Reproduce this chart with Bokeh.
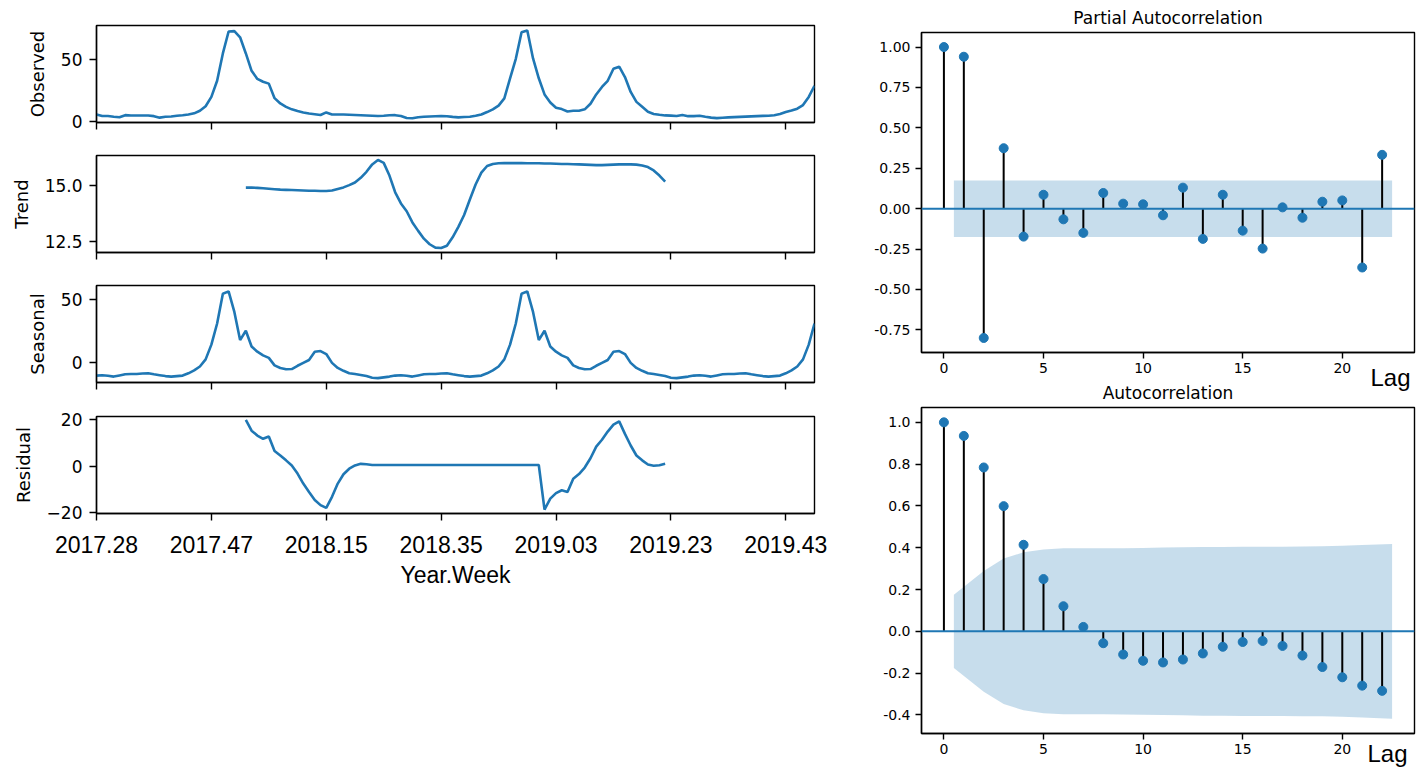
from bokeh.plotting import figure
from bokeh.layouts import row, column
from bokeh.models import Range1d, FixedTicker, Span, Title
from bokeh.embed import file_html
from bokeh.resources import INLINE

# ---------------- data ----------------
week_ticks = [0, 20, 40, 60, 80, 100, 120]
week_labels = ["2017.28", "2017.47", "2018.15", "2018.35", "2019.03", "2019.23", "2019.43"]

observed = [
    5.9, 4.6, 4.6, 4.0, 3.6, 5.3, 5.0, 5.0, 5.0, 5.0,
    4.5, 3.3, 4.0, 4.2, 4.8, 5.2, 5.8, 6.8, 8.9, 12.5,
    20.0, 33.0, 55.0, 72.7, 73.0, 68.0, 55.0, 41.0, 34.5, 32.2,
    30.7, 19.0, 14.7, 12.0, 10.0, 8.6, 7.5, 6.6, 6.1, 5.4,
    7.5, 5.9, 5.8, 5.8, 5.6, 5.4, 5.2, 5.0, 4.8, 4.6,
    4.8, 5.2, 5.3, 4.6, 3.0, 2.8, 3.6, 4.0, 4.2, 4.4,
    4.6, 4.4, 3.9, 3.5, 3.8, 4.0, 4.8, 5.8, 7.8, 10.0,
    13.0, 18.8, 35.0, 50.7, 72.0, 73.5, 51.0, 35.0, 22.0, 15.5,
    11.3, 10.2, 8.3, 8.8, 8.9, 10.0, 14.5, 22.0, 28.0, 33.0,
    42.7, 44.3, 36.0, 24.0, 16.0, 12.0, 8.0, 6.3, 5.6, 5.1,
    4.9, 4.6, 5.4, 4.5, 4.5, 4.8, 4.0, 3.3, 2.9, 3.2,
    3.5, 3.7, 3.9, 4.1, 4.3, 4.5, 4.7, 4.8, 5.3, 6.2,
    7.8, 9.0, 10.5, 13.4, 20.0, 29.0,
]

trend_start = 26
trend = [
    14.91, 14.91, 14.90, 14.88, 14.86, 14.84, 14.82, 14.81, 14.80, 14.79,
    14.78, 14.77, 14.77, 14.76, 14.76, 14.78, 14.85, 14.92, 15.02, 15.14,
    15.35, 15.62, 15.95, 16.15, 16.02,
    15.45, 14.70, 14.20, 13.85, 13.35, 12.97, 12.62, 12.37, 12.22, 12.20, 12.30,
    12.68, 13.15, 13.68, 14.38, 15.05, 15.58, 15.88, 15.97,
    16.00, 16.01, 16.01, 16.01, 16.01, 16.00, 16.00, 16.00, 15.99, 15.99, 15.98,
    15.97, 15.97, 15.96, 15.95, 15.94, 15.93, 15.92, 15.92, 15.93, 15.94,
    15.95, 15.95, 15.95, 15.94, 15.90, 15.83, 15.68, 15.45, 15.18,
]

seasonal = [
    -10.6, -10.3, -10.8, -11.4, -10.5, -9.6, -9.4, -9.3, -9.0, -8.8,
    -9.6, -10.3, -11.0, -11.4, -11.0, -10.6, -8.8, -6.5, -3.4, 2.3,
    14.0, 30.8, 54.5, 56.3, 40.0, 17.6, 25.0, 12.5, 8.4, 5.5,
    3.5, -2.5, -4.6, -5.6, -5.4, -2.8, -0.5, 1.8, 8.3, 8.9,
    6.5, -0.5, -4.5, -6.8, -8.7, -9.4, -10.1, -11.0, -12.3, -12.6,
    -12.0, -11.4,
    -10.6, -10.3, -10.8, -11.4, -10.5, -9.6, -9.4, -9.3, -9.0, -8.8,
    -9.6, -10.3, -11.0, -11.4, -11.0, -10.6, -8.8, -6.5, -3.4, 2.3,
    14.0, 30.8, 54.5, 56.3, 40.0, 17.6, 25.0, 12.5, 8.4, 5.5,
    3.5, -2.5, -4.6, -5.6, -5.4, -2.8, -0.5, 1.8, 8.3, 8.9,
    6.5, -0.5, -4.5, -6.8, -8.7, -9.4, -10.1, -11.0, -12.3, -12.6,
    -12.0, -11.4,
    -10.6, -10.3, -10.8, -11.4, -10.5, -9.6, -9.4, -9.3, -9.0, -8.8,
    -9.6, -10.3, -11.0, -11.4, -11.0, -10.6, -8.8, -6.5, -3.4, 2.3,
    14.0, 30.8,
]

resid_start = 26
resid = [
    20.0, 15.4, 13.3, 11.9, 12.9, 6.6, 4.7, 2.6, 0.4, -3.1,
    -7.4, -11.0, -14.5, -16.7, -17.9, -13.1, -7.4, -3.4, -1.0, 0.4,
    1.1, 0.9, 0.6, 0.6,
    0.6, 0.6, 0.6, 0.6, 0.6, 0.6, 0.6, 0.6, 0.6, 0.6,
    0.6, 0.6, 0.6, 0.6, 0.6, 0.6, 0.6, 0.6, 0.6, 0.6,
    0.6, 0.6, 0.6, 0.6, 0.6, 0.6, 0.6, 0.6,
    -18.6, -13.9, -11.5, -10.3, -11.0, -5.3, -3.3, -0.5, 3.5, 8.5,
    11.5, 15.0, 18.0, 19.4, 14.0, 9.0, 4.7, 2.6, 0.8, 0.3,
    0.5, 1.1,
]

lags = list(range(23))
pacf_vals = [1.00, 0.94, -0.80, 0.374, -0.173, 0.086, -0.066, -0.150, 0.097, 0.031,
             0.027, -0.041, 0.130, -0.187, 0.086, -0.136, -0.247, 0.008, -0.056, 0.043,
             0.051, -0.364, 0.333]
pacf_band_lags = [0.5, 22.5]
pacf_band = [0.175, 0.175]

acf_vals = [1.00, 0.935, 0.784, 0.599, 0.414, 0.250, 0.120, 0.021, -0.057, -0.111,
            -0.141, -0.149, -0.135, -0.106, -0.074, -0.051, -0.046, -0.070, -0.116, -0.171,
            -0.220, -0.260, -0.285]
acf_band_lags = [0.5, 2, 3, 4, 5, 6, 7, 8, 9, 10, 11, 12, 13, 14, 15, 16, 17, 18, 19, 20, 21, 22.5]
acf_band = [0.175, 0.289, 0.348, 0.378, 0.392, 0.397, 0.397, 0.397, 0.398, 0.399, 0.401,
            0.402, 0.404, 0.404, 0.405, 0.405, 0.405, 0.406, 0.407, 0.409, 0.413, 0.418]

# ---------------- style ----------------
BLUE = "#1f77b4"
DV = "DejaVu Sans"
LIB = "Liberation Sans"
LW = 828


def base_style(p, tick_px, ytick_out, ystandoff):
    p.grid.visible = False
    p.outline_line_color = "black"
    p.outline_line_width = 1.4
    p.background_fill_color = "white"
    for ax in (p.xaxis[0], p.yaxis[0]):
        ax.axis_line_width = 1.4
        ax.axis_line_color = "black"
        ax.major_tick_line_width = 1.4
        ax.major_tick_line_color = "black"
        ax.minor_tick_line_color = None
        ax.major_tick_in = 0
        ax.major_label_text_font = DV
        ax.major_label_text_font_size = tick_px
        ax.major_label_text_color = "black"
        ax.axis_label_text_font_style = "normal"
        ax.axis_label_text_color = "black"
    p.yaxis[0].major_tick_out = ytick_out
    p.yaxis[0].major_label_standoff = ystandoff


def left_panel(ylabel, xs, ys, yr, yt, ylabs, height, top, bottom, last=False):
    p = figure(width=LW, height=height, x_range=Range1d(0, len(observed) - 1),
               y_range=Range1d(*yr), output_backend="svg", toolbar_location=None,
               min_border_left=96, min_border_right=LW - 96 - 718,
               min_border_top=top, min_border_bottom=bottom)
    base_style(p, "17px", 7, 7)
    p.line(xs, ys, line_color=BLUE, line_width=2.6)
    p.xaxis[0].ticker = FixedTicker(ticks=week_ticks)
    p.xaxis[0].major_tick_out = 7
    p.yaxis[0].ticker = FixedTicker(ticks=yt)
    p.yaxis[0].major_label_overrides = {t: s for t, s in zip(yt, ylabs)}
    p.yaxis[0].axis_label = ylabel
    p.yaxis[0].axis_label_text_font = DV
    p.yaxis[0].axis_label_text_font_size = "18px"
    p.yaxis[0].axis_label_standoff = 10
    if last:
        p.xaxis[0].major_label_overrides = {t: s for t, s in zip(week_ticks, week_labels)}
        p.xaxis[0].major_label_text_font = LIB
        p.xaxis[0].major_label_text_font_size = "23px"
        p.xaxis[0].major_label_standoff = 15
        p.xaxis[0].axis_label = "Year.Week"
        p.xaxis[0].axis_label_text_font = LIB
        p.xaxis[0].axis_label_text_font_size = "23px"
        p.xaxis[0].axis_label_standoff = 6
    else:
        p.xaxis[0].major_label_overrides = {t: "" for t in week_ticks}
        p.xaxis[0].major_label_standoff = 0
    return p


n = len(observed)
idx = list(range(n))
t_idx = list(range(trend_start, trend_start + len(trend)))
r_idx = list(range(resid_start, resid_start + len(resid)))

p_obs = left_panel("Observed", idx, observed, (-0.6, 77.5), [0, 50], ["0", "50"], 138, 25, 16)
p_trend = left_panel("Trend", t_idx, trend, (12.0, 16.35), [12.5, 15.0], ["12.5", "15.0"], 130, 17, 16)
p_seas = left_panel("Seasonal", idx, seasonal, (-16.1, 61.0), [0, 50], ["0", "50"], 130, 17, 16)
p_resid = left_panel("Residual", r_idx, resid, (-20.3, 21.5), [-20, 0, 20],
                     ["\u221220", "0", "20"], 202, 18, 87, last=True)


def corr_panel(vals, band_x, band_y, yr, yt, ylabs, title, width, height,
               mb_left, mb_right, mb_top, mb_bottom, lag_offset, lag_standoff, lag_valign):
    p = figure(width=width, height=height, x_range=Range1d(-1.125, 23.625),
               y_range=Range1d(*yr), output_backend="svg", toolbar_location=None,
               min_border_left=mb_left, min_border_right=mb_right,
               min_border_top=mb_top, min_border_bottom=mb_bottom, title=title)
    p.title.align = "center"
    p.title.text_font = DV
    p.title.text_font_size = "17px"
    p.title.text_font_style = "normal"
    p.title.text_color = "black"
    p.title.standoff = 10
    base_style(p, "14px", 6, 5)
    p.xaxis[0].major_tick_out = 6
    p.xaxis[0].major_label_standoff = 4
    p.xaxis[0].ticker = FixedTicker(ticks=[0, 5, 10, 15, 20])
    p.yaxis[0].ticker = FixedTicker(ticks=yt)
    p.yaxis[0].major_label_overrides = {t: s for t, s in zip(yt, ylabs)}
    p.varea(x=band_x, y1=[-v for v in band_y], y2=band_y, fill_color=BLUE, fill_alpha=0.25)
    p.segment(x0=lags, y0=[0] * len(lags), x1=lags, y1=vals, line_color="black", line_width=2)
    p.scatter(lags, vals, size=9, fill_color=BLUE, line_color=BLUE)
    p.add_layout(Span(location=0, dimension="width", line_color=BLUE, line_width=2))
    p.add_layout(Title(text="Lag", align="right", offset=lag_offset, standoff=lag_standoff,
                       vertical_align=lag_valign,
                       text_font=LIB, text_font_size="24px", text_font_style="normal",
                       text_color="black"), "below")
    return p


pacf_ticks = [-0.75, -0.5, -0.25, 0.0, 0.25, 0.5, 0.75, 1.0]
pacf_labs = ["-0.75", "-0.50", "-0.25", "0.00", "0.25", "0.50", "0.75", "1.00"]
acf_ticks = [-0.4, -0.2, 0.0, 0.2, 0.4, 0.6, 0.8, 1.0]
acf_labs = ["-0.4", "-0.2", "0.0", "0.2", "0.4", "0.6", "0.8", "1.0"]

p_pacf = corr_panel(pacf_vals, pacf_band_lags, pacf_band, (-0.89, 1.09), pacf_ticks, pacf_labs,
                    "Partial Autocorrelation", 594, 400, 93, 8, 32, 48, 4, -27, "bottom")
p_acf = corr_panel(acf_vals, acf_band_lags, acf_band, (-0.489, 1.071), acf_ticks, acf_labs,
                   "Autocorrelation", 594, 395, 84, 5, 32, 37, 7, -34, "top")
p_acf.border_fill_color = None
p_acf.margin = (-25, 0, 0, 0)

layout = row(column(p_obs, p_trend, p_seas, p_resid), column(p_pacf, p_acf))

with open("out.html", "w") as f:
    f.write(file_html(layout, INLINE))
